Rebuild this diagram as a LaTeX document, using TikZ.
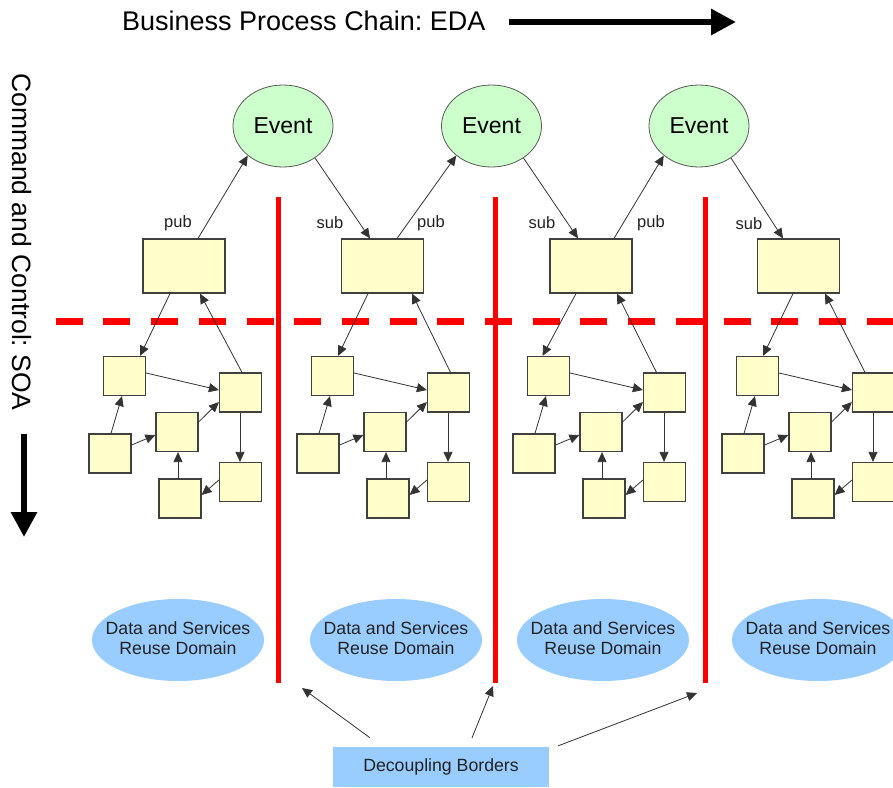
\documentclass[tikz,border=0pt]{standalone}
\usepackage{fontspec}
\setmainfont{Liberation Sans}
\usetikzlibrary{arrows.meta,shapes.geometric,calc}
\definecolor{boxfill}{HTML}{FFFFCC}
\definecolor{boxline}{HTML}{404040}
\definecolor{evfill}{HTML}{CCFFCC}
\definecolor{domfill}{HTML}{99CCFF}
\definecolor{txt}{HTML}{222222}
\frenchspacing
\tikzset{
  bigbox/.style={rectangle,draw=boxline,fill=boxfill,line width=1.2pt,minimum width=82pt,minimum height=54pt,inner sep=0pt},
  smallbox/.style={rectangle,draw=boxline,fill=boxfill,line width=1.2pt,minimum width=42pt,minimum height=39pt,inner sep=0pt},
  eventnode/.style={ellipse,draw=black!65,fill=evfill,line width=0.8pt,minimum width=100pt,minimum height=82pt,inner sep=0pt,font=\fontsize{23}{26}\selectfont},
  domnode/.style={ellipse,fill=domfill,minimum width=172pt,minimum height=82pt,inner sep=0pt},
  domtext/.style={align=center,text=txt,inner sep=0pt,font=\fontsize{17.7}{20.5}\selectfont},
  conn/.style={draw=black!80,line width=0.8pt,-{Triangle[length=10pt,width=9pt]}},
  lbl/.style={text=txt,font=\fontsize{16.5}{18}\selectfont,inner sep=0pt},
  redv/.style={draw=red,line width=5pt},
  bigarrow/.style={draw=black,line width=6pt,-{Triangle[length=25pt,width=25pt]}},
}
\begin{document}
\begin{tikzpicture}[x=1pt,y=-1pt]
\clip (0,0) rectangle (893,787);
\fill[white] (0,0) rectangle (893,787);
% title and side label
\node[anchor=west,inner sep=0pt,font=\fontsize{27}{30}\selectfont] (title) at (122,21) {Business Process Chain: EDA};
\coordinate (tarr) at (736,22);
\draw[bigarrow] ([xshift=23pt,yshift=-1pt]title.east) -- (tarr);
\node[rotate=-90,inner sep=0pt,font=\fontsize{26.5}{30}\selectfont] (soa) at (22,242) {Command and Control: SOA};
\coordinate (sarr) at (24,537);
\draw[bigarrow] ([xshift=2pt,yshift=-23pt]soa.east) -- (sarr);
% red dashed horizontal border
\coordinate (dl) at (55.7,321.5);
\coordinate (dr) at (893,321.5);
\draw[red,line width=7pt,dash pattern=on 27pt off 20.7pt] (dl) -- (dr);
% red vertical borders
\foreach \i/\x in {1/278,2/495,3/705.5}{
  \coordinate (r\i t) at (\x,197);
  \coordinate (r\i b) at (\x,683);
  \draw[redv] (r\i t) -- (r\i b);
}
% events
\node[eventnode] (ev1) at (283,126) {Event};
\node[eventnode] (ev2) at (491.5,126) {Event};
\node[eventnode] (ev3) at (699,126) {Event};
% big boxes
\node[bigbox] (big1) at (184,266) {};
\node[bigbox] (big2) at (382.5,266) {};
\node[bigbox] (big3) at (591,266) {};
\node[bigbox] (big4) at (798.5,266) {};
% clusters
\foreach \c/\o/\as/\at/\bs/\bt in {1/0/-14/15.5/1.5/16, 2/208/-14.5/5.5/2/29.5, 3/424/-15/-6/-8/26, 4/633/-5.5/5.5/-8.5/26.5}{
  \node[smallbox] (A\c) at (124.5+\o,376) {};
  \node[smallbox] (B\c) at (240.5+\o,392.5) {};
  \node[smallbox] (C\c) at (177+\o,432) {};
  \node[smallbox] (D\c) at (110+\o,453.5) {};
  \node[smallbox] (E\c) at (240.5+\o,482) {};
  \node[smallbox] (F\c) at (180+\o,498.5) {};
  \draw[conn] ([xshift=\as pt]big\c.south) -- ([xshift=\at pt]A\c.north);
  \draw[conn] ([xshift=\bs pt]B\c.north) -- ([xshift=\bt pt]big\c.south);
  \draw[conn] ([yshift=3pt]A\c.east) -- ([yshift=2.5pt]B\c.west);
  \draw[conn] ([xshift=1pt]D\c.north) -- ([xshift=-2.5pt]A\c.south);
  \draw[conn] ([yshift=8.5pt]D\c.east) -- ([yshift=-3pt]C\c.west);
  \draw[conn] ([yshift=10pt]C\c.east) -- ([yshift=-9.5pt]B\c.west);
  \draw[conn] ([xshift=-0.5pt]B\c.south) -- ([xshift=-0.5pt]E\c.north);
  \draw[conn] ([yshift=2pt]E\c.west) -- ([yshift=3.5pt]F\c.east);
  \draw[conn] ([xshift=-2pt]F\c.north) -- ([xshift=-2pt]F\c.north |- C\c.south);
}
% pub / sub arrows
\draw[conn] ([xshift=14pt]big1.north) -- (ev1.220);
\draw[conn] (ev1.315) -- ([xshift=-12.5pt]big2.north);
\draw[conn] ([xshift=14.5pt]big2.north) -- (ev2.220);
\draw[conn] (ev2.315) -- ([xshift=-13pt]big3.north);
\draw[conn] ([xshift=23pt]big3.north) -- (ev3.220);
\draw[conn] (ev3.315) -- ([xshift=-15.5pt]big4.north);
\node[lbl] (p1) at (178,223) {pub};
\node[lbl] (s2) at (330,223) {sub};
\node[lbl] (p2) at (431,223) {pub};
\node[lbl] (s3) at (542,223) {sub};
\node[lbl] (p3) at (651,223) {pub};
\node[lbl] (s4) at (749,224) {sub};
% domains
\foreach \i/\x in {1/178,2/396,3/603,4/818}{
  \node[domnode] (dom\i) at (\x,640) {};
  \node[domtext] (dom\i t) at ([yshift=2pt]dom\i.center) {Data and Services\\Reuse Domain};
}
% decoupling borders
\node[rectangle,fill=domfill,minimum width=216pt,minimum height=40pt,inner sep=0pt,text=txt,font=\fontsize{17.7}{20}\selectfont] (dec) at (441,767) {Decoupling Borders};
\draw[conn] ([xshift=-71pt,yshift=9pt]dec.north) -- ([xshift=24pt,yshift=-5pt]r1b);
\draw[conn] ([xshift=31pt,yshift=9pt]dec.north) -- ([xshift=-2pt,yshift=-3pt]r2b);
\draw[conn] ([xshift=9pt,yshift=1pt]dec.north east) -- ([xshift=-8.5pt,yshift=-10pt]r3b);
\end{tikzpicture}
\end{document}
